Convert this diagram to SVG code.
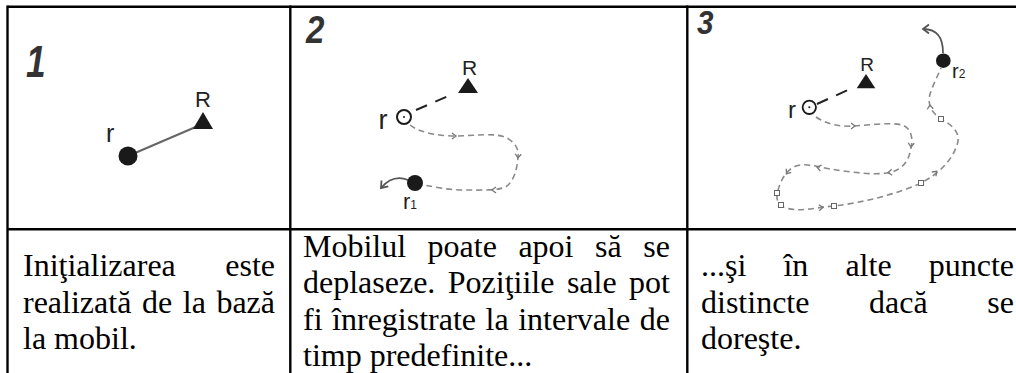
<svg xmlns="http://www.w3.org/2000/svg" xmlns:xlink="http://www.w3.org/1999/xlink" width="1016" height="373" viewBox="0 0 1016 373">
  <style>
    .grid { stroke: #000; stroke-width: 2.4; fill: none; }
    .num { font-family: "Liberation Sans", Arial, sans-serif; font-weight: bold; font-style: italic; fill: #333; }
    .lbl { font-family: "Liberation Sans", Arial, sans-serif; fill: #222; }
    .body { font-family: "Liberation Serif", "Times New Roman", serif; font-size: 32px; fill: #000; }
    .solid { fill: #1a1a1a; }
    .base { stroke: #222; stroke-width: 2; stroke-dasharray: 12 9; fill: none; }
    .track { stroke: #8a8a8a; stroke-width: 1.6; stroke-dasharray: 6 4; fill: none; }
    .chev { stroke: #777; stroke-width: 1.3; fill: none; }
    .sq { stroke: #666; stroke-width: 1; fill: #fff; }
    .move { stroke: #555; stroke-width: 1.8; fill: none; marker-end: url(#arr); }
  </style>
  <defs>
    <path id="chev" class="chev" d="M-3,-3 L1,0 L-3,3"/>
    <rect id="sq" class="sq" x="-2.5" y="-2.5" width="5" height="5"/>
    <marker id="arr" markerUnits="userSpaceOnUse" markerWidth="14" markerHeight="14" refX="0" refY="0" viewBox="-8 -7 10 14" orient="auto">
      <path d="M-6,-4.5 L0,0 L-6,4.5" stroke="#555" stroke-width="1.8" fill="none"/>
    </marker>
  </defs>

  <rect width="1016" height="373" fill="#fff"/>

  <!-- table grid -->
  <g id="table">
    <line class="grid" x1="7.5" y1="6.7" x2="1016" y2="6.7"/>
    <line class="grid" x1="7.5" y1="229.2" x2="1016" y2="229.2"/>
    <line class="grid" x1="7.5" y1="5.5" x2="7.5" y2="373"/>
    <line class="grid" x1="290.3" y1="5.5" x2="290.3" y2="373"/>
    <line class="grid" x1="687.3" y1="5.5" x2="687.3" y2="373"/>
  </g>

  <!-- step numbers -->
  <text class="num" font-size="44" transform="translate(26,77) scale(0.8,1)">1</text>
  <text class="num" font-size="39" transform="translate(306,43) scale(0.85,1)">2</text>
  <text class="num" font-size="33" transform="translate(697,33.5) scale(0.9,1)">3</text>

  <!-- connectors -->
  <g id="connectors">
    <!-- step 1: base to rover link -->
    <line x1="128" y1="156" x2="198" y2="126" stroke="#666" stroke-width="2"/>
    <!-- step 2 -->
    <line class="base" x1="416" y1="110" x2="453" y2="94"/>
    <path class="track" d="M410,125 C420,133 440,136 455,136 C475,136 495,132 507,138 C516,143 519,150 518,157 C517,170 514,180 507,186 C500,191 480,190 463,190 C448,190 435,187 424,185"/>
    <use xlink:href="#chev" transform="translate(455,136)"/>
    <use xlink:href="#chev" transform="translate(518,157) rotate(95)"/>
    <use xlink:href="#chev" transform="translate(493,190) rotate(180)"/>
    <path class="move" d="M408,180 Q393,174 381,188"/>
    <!-- step 3 -->
    <line class="base" x1="817" y1="104" x2="850" y2="89"/>
    <path class="track" d="M816,117 C826,124 840,127 854,126 C870,125 890,122 902,125 C912,128 913,140 911,148 C909,160 904,168 892,172 C875,176 850,172 830,169 C815,166 805,163 796,166 C786,170 781,180 778,190 C775,198 778,206 786,208 C800,212 812,208 834,206 C860,203 895,195 921,183 C940,173 952,160 957,145 C962,132 950,124 941,119 C929,111 928,102 930,94 C933,85 938,75 941,68"/>
    <use xlink:href="#chev" transform="translate(854,126)"/>
    <use xlink:href="#chev" transform="translate(911,146) rotate(95)"/>
    <use xlink:href="#chev" transform="translate(889,172.5) rotate(175)"/>
    <use xlink:href="#chev" transform="translate(818,167.5) rotate(191)"/>
    <use xlink:href="#chev" transform="translate(787,173) rotate(125)"/>
    <use xlink:href="#chev" transform="translate(822,207.5) rotate(-5)"/>
    <use xlink:href="#chev" transform="translate(936,172) rotate(-45)"/>
    <use xlink:href="#chev" transform="translate(930,106) rotate(-95)"/>
    <use xlink:href="#sq" x="941" y="119"/>
    <use xlink:href="#sq" x="921" y="183"/>
    <use xlink:href="#sq" x="834" y="206"/>
    <use xlink:href="#sq" x="781" y="205"/>
    <use xlink:href="#sq" x="777" y="193"/>
    <path class="move" d="M943,53 C943,38 938,29 923,29"/>
  </g>

  <!-- step 1 nodes -->
  <g id="s1-rover">
    <circle class="solid" cx="128" cy="156" r="9.5"/>
    <text class="lbl" font-size="25" x="106" y="142">r</text>
  </g>
  <g id="s1-base">
    <polygon class="solid" points="203,112 193,129 213,129"/>
    <text class="lbl" font-size="22" x="203" y="107" text-anchor="middle">R</text>
  </g>

  <!-- step 2 nodes -->
  <g id="s2-base">
    <polygon class="solid" points="468,78 458,93 478,93"/>
    <text class="lbl" font-size="21" x="469.5" y="75" text-anchor="middle">R</text>
  </g>
  <g id="s2-start">
    <circle cx="404" cy="117" r="7" fill="#fff" stroke="#1a1a1a" stroke-width="2"/>
    <circle cx="404" cy="117" r="1" fill="#1a1a1a"/>
    <text class="lbl" font-size="27" x="378.5" y="128.5">r</text>
  </g>
  <g id="s2-r1">
    <circle class="solid" cx="415" cy="183" r="8"/>
    <text class="lbl" font-size="22" x="403" y="208.5">r<tspan font-size="12">1</tspan></text>
  </g>

  <!-- step 3 nodes -->
  <g id="s3-base">
    <polygon class="solid" points="866,74 856.7,88.3 875.3,88.3"/>
    <text class="lbl" font-size="19" x="867" y="71" text-anchor="middle">R</text>
  </g>
  <g id="s3-start">
    <circle cx="809.3" cy="107.3" r="6.7" fill="#fff" stroke="#1a1a1a" stroke-width="1.8"/>
    <circle cx="809.3" cy="107.3" r="1" fill="#1a1a1a"/>
    <text class="lbl" font-size="24" x="788" y="117.5">r</text>
  </g>
  <g id="s3-r2">
    <circle class="solid" cx="943.3" cy="60.7" r="7.3"/>
    <text class="lbl" font-size="20" x="952" y="78">r<tspan font-size="12">2</tspan></text>
  </g>

  <!-- captions -->
  <g id="caption-1" class="body">
    <text x="23" y="276">Iniţializarea</text>
    <text x="275" y="276" text-anchor="end">este</text>
    <text x="23" y="312.5">realizată</text>
    <text x="142" y="312.5">de</text>
    <text x="182.8" y="312.5">la</text>
    <text x="275" y="312.5" text-anchor="end">bază</text>
    <text x="23" y="349">la mobil.</text>
  </g>
  <g id="caption-2" class="body">
    <text x="303" y="256.5">Mobilul</text>
    <text x="427.6" y="256.5">poate</text>
    <text x="518.4" y="256.5">apoi</text>
    <text x="595" y="256.5">să</text>
    <text x="670" y="256.5" text-anchor="end">se</text>
    <text x="303" y="293">deplaseze.</text>
    <text x="447.8" y="293">Poziţiile</text>
    <text x="566.9" y="293">sale</text>
    <text x="670" y="293" text-anchor="end">pot</text>
    <text x="303" y="329.5">fi</text>
    <text x="332.1" y="329.5">înregistrate</text>
    <text x="485.6" y="329.5">la</text>
    <text x="518.2" y="329.5">intervale</text>
    <text x="670" y="329.5" text-anchor="end">de</text>
    <text x="303" y="366">timp predefinite...</text>
  </g>
  <g id="caption-3" class="body">
    <text x="701" y="276">...şi</text>
    <text x="783.4" y="276">în</text>
    <text x="845.4" y="276">alte</text>
    <text x="1014" y="276" text-anchor="end">puncte</text>
    <text x="701" y="312.5">distincte</text>
    <text x="869" y="312.5">dacă</text>
    <text x="1014" y="312.5" text-anchor="end">se</text>
    <text x="701" y="349">doreşte.</text>
  </g>
</svg>
